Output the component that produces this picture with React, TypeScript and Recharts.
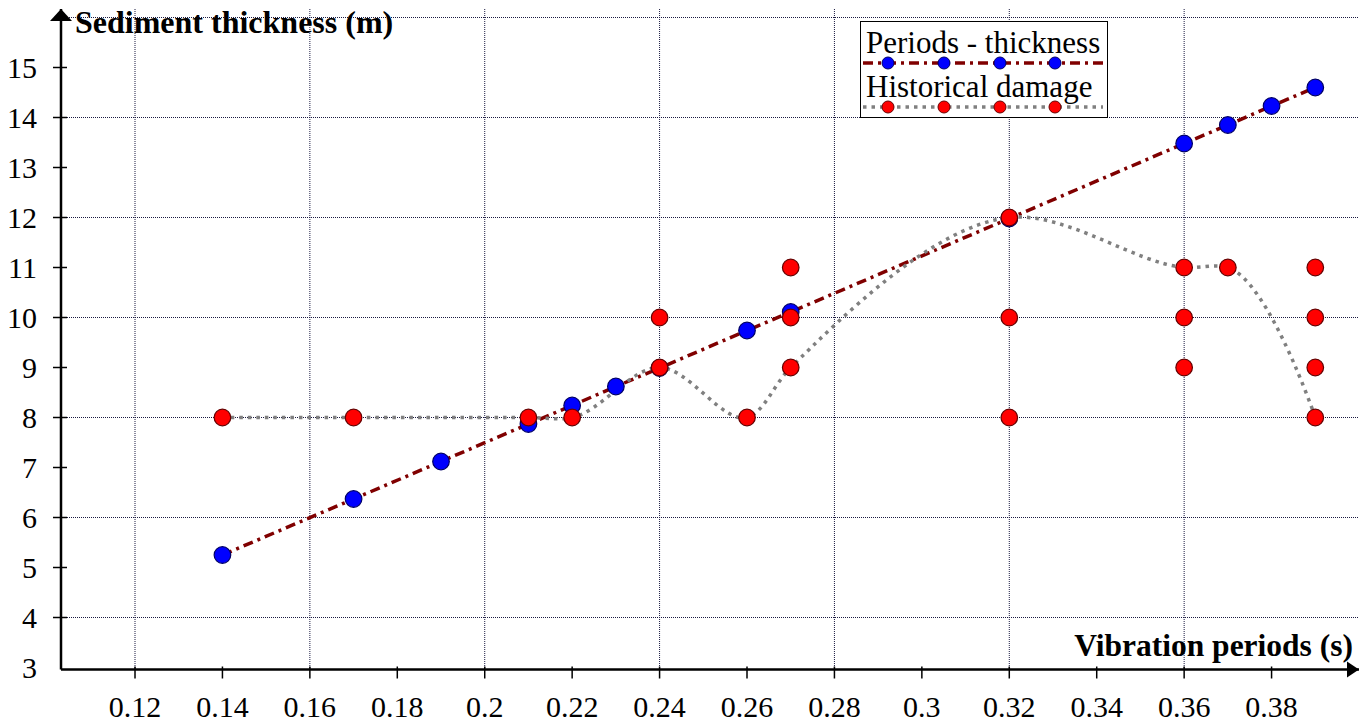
import React from 'react';
import {
  ComposedChart, Line, Scatter, XAxis, YAxis, CartesianGrid, Legend,
} from 'recharts';

// blue markers + dash-dot fit line
const periodX = [0.14, 0.17, 0.19, 0.21, 0.22, 0.23, 0.24, 0.26, 0.27, 0.32, 0.36, 0.37, 0.38, 0.39];
const thicknessY = [5.25, 6.37, 7.12, 7.87, 8.24, 8.62, 8.99, 9.74, 10.11, 11.98, 13.48, 13.85, 14.23, 14.6];

// red markers
const damageX = [0.14, 0.17, 0.21, 0.22, 0.24, 0.24, 0.26, 0.27, 0.27, 0.27, 0.32, 0.32, 0.32,
  0.36, 0.36, 0.36, 0.37, 0.39, 0.39, 0.39, 0.39];
const damageY = [8, 8, 8, 8, 10, 9, 8, 11, 10, 9, 12, 10, 8, 11, 10, 9, 11, 11, 10, 9, 8];

// gray smoothed line of historical damage
const damageLineX = [0.14, 0.17, 0.21, 0.22, 0.24, 0.26, 0.27, 0.32, 0.36, 0.37, 0.39];
const damageLineY = [8, 8, 8, 8, 9, 8, 9, 12, 11, 11, 8];

const xTicks = [0.12, 0.14, 0.16, 0.18, 0.2, 0.22, 0.24, 0.26, 0.28, 0.3, 0.32, 0.34, 0.36, 0.38];
const yTicks = [3, 4, 5, 6, 7, 8, 9, 10, 11, 12, 13, 14, 15];
const xGrid = [0.12, 0.16, 0.2, 0.24, 0.28, 0.32, 0.36];
const yGrid = [4, 6, 8, 10, 12, 14, 16];

const periodData = periodX.map((x, i) => ({ x, y: thicknessY[i] }));
const damageData = damageX.map((x, i) => ({ x, y: damageY[i] }));
const damageLineData = damageLineX.map((x, i) => ({ x, y: damageLineY[i] }));

const FONT = 'Liberation Serif';
const FIT_COLOR = '#800000';
const SMOOTH_COLOR = '#808080';
const FIT_DASH = '10 5 3 5';
const SMOOTH_DASH = '3.5 5';

const legendItems = [
  { name: 'Periods - thickness', stroke: FIT_COLOR, dash: FIT_DASH, dot: '#0000ff', dotStroke: '#000066' },
  { name: 'Historical damage', stroke: SMOOTH_COLOR, dash: SMOOTH_DASH, dot: '#ff0000', dotStroke: '#660000' },
];

// catmull-rom (alpha between centripetal and chordal), close to the spreadsheet "smoothed line"
const smoothCurve = (context: any) => {
  let pts: number[][] = [];
  const alpha = 0.8;
  const dist = (a: number[], b: number[]) => Math.hypot(b[0] - a[0], b[1] - a[1]);
  return {
    areaStart() {},
    areaEnd() {},
    lineStart() { pts = []; },
    point(x: number, y: number) { pts.push([x, y]); },
    lineEnd() {
      if (!pts.length) return;
      context.moveTo(pts[0][0], pts[0][1]);
      for (let i = 0; i < pts.length - 1; i++) {
        const p0 = pts[i - 1];
        const p1 = pts[i];
        const p2 = pts[i + 1];
        const p3 = pts[i + 2];
        const l12 = dist(p1, p2);
        const l12a = Math.pow(l12, alpha);
        const l12_2a = Math.pow(l12, 2 * alpha);
        let c1 = p1;
        let c2 = p2;
        if (p0) {
          const l01 = dist(p0, p1);
          if (l01 > 1e-6) {
            const l01a = Math.pow(l01, alpha);
            const l01_2a = Math.pow(l01, 2 * alpha);
            const a = 2 * l01_2a + 3 * l01a * l12a + l12_2a;
            const n = 3 * l01a * (l01a + l12a);
            c1 = [0, 1].map((k) => (p1[k] * a - p0[k] * l12_2a + p2[k] * l01_2a) / n);
          }
        }
        if (p3) {
          const l23 = dist(p2, p3);
          if (l23 > 1e-6) {
            const l23a = Math.pow(l23, alpha);
            const l23_2a = Math.pow(l23, 2 * alpha);
            const b = 2 * l23_2a + 3 * l23a * l12a + l12_2a;
            const m = 3 * l23a * (l23a + l12a);
            c2 = [0, 1].map((k) => (p2[k] * b + p1[k] * l23_2a - p3[k] * l12_2a) / m);
          }
        }
        context.bezierCurveTo(c1[0], c1[1], c2[0], c2[1], p2[0], p2[1]);
      }
    },
  };
};

const XTick = ({ x, y, payload }: any) => (
  <g>
    <line x1={x} x2={x} y1={y - 3} y2={y + 9} stroke="#000" strokeWidth={1.5} />
    <text x={x} y={y + 47} textAnchor="middle" fontFamily={FONT} fontSize={30} fill="#000">
      {payload.value}
    </text>
  </g>
);

const YTick = ({ x, y, payload }: any) => (
  <g>
    {payload.value !== 3 && (
      <line x1={x - 8} x2={x + 6} y1={y} y2={y} stroke="#000" strokeWidth={1.5} />
    )}
    <text x={x - 24} y={y + 10} textAnchor="end" fontFamily={FONT} fontSize={30} fill="#000">
      {payload.value}
    </text>
  </g>
);

const YTitle = ({ viewBox }: any) => {
  const ax = viewBox.x + viewBox.width;
  const top = viewBox.y;
  return (
    <g>
      <polygon points={`${ax},${top} ${ax - 11},${top + 12} ${ax + 11},${top + 12}`} fill="#000" />
      <text x={ax + 14} y={top + 24} fontFamily={FONT} fontSize={32} fontWeight="bold" fill="#000">
        Sediment thickness (m)
      </text>
    </g>
  );
};

const XTitle = ({ viewBox }: any) => {
  const right = viewBox.x + viewBox.width;
  const ay = viewBox.y;
  return (
    <g>
      <polygon points={`${right},${ay} ${right - 12},${ay - 8} ${right - 12},${ay + 8}`} fill="#000" />
      <text x={right - 6} y={ay - 14} textAnchor="end" fontFamily={FONT} fontSize={31.5} fontWeight="bold" fill="#000">
        Vibration periods (s)
      </text>
    </g>
  );
};

const dotXs = [28, 84, 140, 195];

const LegendBox = () => (
  <svg width={248} height={97} style={{ display: 'block' }}>
    <rect x={0.5} y={0.5} width={247} height={96} fill="#fff" stroke="#000" strokeWidth={1} />
    {legendItems.map((item, i) => {
      const base = i * 44;
      return (
        <g key={item.name}>
          <text x={6} y={base + 32} fontFamily={FONT} fontSize={31} fill="#000">{item.name}</text>
          <line x1={3} x2={243} y1={base + 42} y2={base + 42} stroke={item.stroke} strokeWidth={3.5}
            strokeDasharray={item.dash} />
          {dotXs.map((dx) => (
            <circle key={dx} cx={dx} cy={base + 42} r={6} fill={item.dot} stroke={item.dotStroke} strokeWidth={1} />
          ))}
        </g>
      );
    })}
  </svg>
);

const dotShape = (fill: string, stroke: string) => (props: any) => (
  <circle cx={props.cx} cy={props.cy} r={8.3} fill={fill} stroke={stroke} strokeWidth={1.2} />
);

export default function App() {
  return (
    <div style={{ position: 'absolute', left: 0, top: 0, background: '#fff', fontFamily: FONT }}>
      <ComposedChart width={1363} height={723} margin={{ top: 9, right: 4, left: 0, bottom: 0 }}>
        <CartesianGrid
          horizontalValues={yGrid}
          verticalValues={xGrid}
          stroke="#1a1a40"
          strokeDasharray="1 1"
          strokeWidth={1}
        />
        <XAxis
          type="number"
          dataKey="x"
          domain={[0.10307, 0.4]}
          ticks={xTicks}
          interval={0}
          allowDataOverflow
          height={53.5}
          tickSize={0}
          tickMargin={0}
          tickLine={false}
          tick={<XTick />}
          axisLine={{ stroke: '#000', strokeWidth: 2.5 }}
          label={<XTitle />}
        />
        <YAxis
          type="number"
          dataKey="y"
          domain={[2.96, 16.17]}
          ticks={yTicks}
          interval={0}
          allowDataOverflow
          width={61}
          tickSize={0}
          tickMargin={0}
          tickLine={false}
          tick={<YTick />}
          axisLine={{ stroke: '#000', strokeWidth: 2.5 }}
          label={<YTitle />}
        />
        <Line
          data={periodData}
          dataKey="y"
          type="linear"
          stroke={FIT_COLOR}
          strokeWidth={3.5}
          strokeDasharray={FIT_DASH}
          dot={false}
          activeDot={false}
          isAnimationActive={false}
          legendType="none"
        />
        <Scatter
          data={periodData}
          dataKey="y"
          shape={dotShape('#0000ff', '#000066')}
          isAnimationActive={false}
          legendType="none"
        />
        <Line
          data={damageLineData}
          dataKey="y"
          type={smoothCurve as any}
          stroke={SMOOTH_COLOR}
          strokeWidth={3.5}
          strokeDasharray={SMOOTH_DASH}
          dot={false}
          activeDot={false}
          isAnimationActive={false}
          legendType="none"
        />
        <Scatter
          data={damageData}
          dataKey="y"
          shape={dotShape('#ff0000', '#660000')}
          isAnimationActive={false}
          legendType="none"
        />
        <Legend
          layout="vertical"
          align="center"
          verticalAlign="middle"
          content={<LegendBox />}
          wrapperStyle={{ position: 'absolute', left: 860, top: 21, width: 248, height: 97 }}
        />
      </ComposedChart>
    </div>
  );
}
